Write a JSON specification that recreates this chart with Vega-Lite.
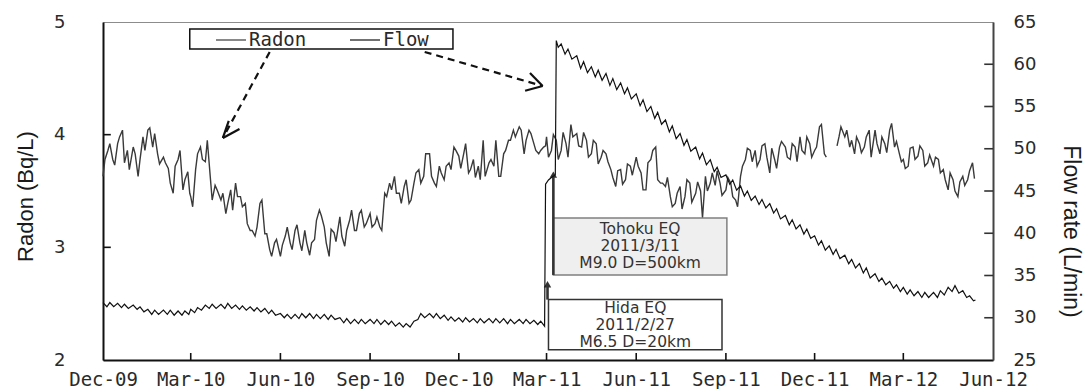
{
  "$schema": "https://vega.github.io/schema/vega-lite/v6.json",
  "width": 890,
  "height": 338,
  "autosize": {"type": "none"},
  "padding": {"left": 103, "top": 22, "right": 96, "bottom": 29},
  "background": "white",
  "config": {
    "view": {"stroke": "#8c8c8c", "strokeWidth": 1},
    "axis": {"grid": false, "domainColor": "#111111", "domainWidth": 2, "ticks": false, "labelColor": "#2a2a2a", "titleColor": "#1a1a1a", "titleFont": "Liberation Sans", "titleFontWeight": "normal", "titleFontSize": 22, "labelFlush": false, "labelOverlap": false}
  },
  "datasets": {
    "radon": [
      {"d":"2009-12-01","r":3.63},{"d":"2009-12-03","r":3.78},{"d":"2009-12-06","r":3.86},{"d":"2009-12-08","r":3.92},{"d":"2009-12-11","r":3.78},{"d":"2009-12-13","r":3.73},{"d":"2009-12-16","r":3.92},{"d":"2009-12-18","r":3.98},{"d":"2009-12-21","r":4.04},{"d":"2009-12-23","r":3.75},{"d":"2009-12-26","r":3.86},{"d":"2009-12-28","r":3.69},
      {"d":"2010-01-01","r":3.89},{"d":"2010-01-03","r":3.83},{"d":"2010-01-06","r":3.63},{"d":"2010-01-08","r":3.78},{"d":"2010-01-11","r":3.98},{"d":"2010-01-13","r":3.86},{"d":"2010-01-16","r":4.04},{"d":"2010-01-18","r":4.06},{"d":"2010-01-21","r":3.89},{"d":"2010-01-23","r":4.01},{"d":"2010-01-26","r":3.83},{"d":"2010-01-28","r":3.74},
      {"d":"2010-02-01","r":3.80},{"d":"2010-02-03","r":3.75},{"d":"2010-02-06","r":3.70},{"d":"2010-02-08","r":3.57},{"d":"2010-02-11","r":3.48},{"d":"2010-02-13","r":3.72},{"d":"2010-02-16","r":3.78},{"d":"2010-02-18","r":3.86},{"d":"2010-02-21","r":3.51},{"d":"2010-02-23","r":3.60},{"d":"2010-02-26","r":3.67},{"d":"2010-02-28","r":3.48},
      {"d":"2010-03-01","r":3.45},{"d":"2010-03-03","r":3.36},{"d":"2010-03-06","r":3.69},{"d":"2010-03-08","r":3.83},{"d":"2010-03-11","r":3.89},{"d":"2010-03-13","r":3.78},{"d":"2010-03-16","r":3.76},{"d":"2010-03-18","r":3.95},{"d":"2010-03-21","r":3.63},{"d":"2010-03-23","r":3.42},{"d":"2010-03-26","r":3.55},{"d":"2010-03-28","r":3.51},
      {"d":"2010-04-01","r":3.42},{"d":"2010-04-03","r":3.48},{"d":"2010-04-06","r":3.30},{"d":"2010-04-08","r":3.39},{"d":"2010-04-11","r":3.51},{"d":"2010-04-13","r":3.33},{"d":"2010-04-16","r":3.57},{"d":"2010-04-18","r":3.45},{"d":"2010-04-21","r":3.45},{"d":"2010-04-23","r":3.36},{"d":"2010-04-26","r":3.39},{"d":"2010-04-28","r":3.21},
      {"d":"2010-05-01","r":3.15},{"d":"2010-05-03","r":3.15},{"d":"2010-05-06","r":3.10},{"d":"2010-05-08","r":3.18},{"d":"2010-05-11","r":3.39},{"d":"2010-05-13","r":3.42},{"d":"2010-05-16","r":3.12},{"d":"2010-05-18","r":3.12},{"d":"2010-05-21","r":2.98},{"d":"2010-05-23","r":2.92},{"d":"2010-05-26","r":3.04},{"d":"2010-05-28","r":3.07},
      {"d":"2010-06-01","r":2.92},{"d":"2010-06-03","r":3.02},{"d":"2010-06-06","r":3.10},{"d":"2010-06-08","r":3.18},{"d":"2010-06-11","r":3.04},{"d":"2010-06-13","r":2.98},{"d":"2010-06-16","r":3.15},{"d":"2010-06-18","r":3.20},{"d":"2010-06-21","r":3.04},{"d":"2010-06-23","r":2.97},{"d":"2010-06-26","r":3.15},{"d":"2010-06-28","r":3.04},
      {"d":"2010-07-01","r":2.93},{"d":"2010-07-03","r":3.04},{"d":"2010-07-06","r":3.07},{"d":"2010-07-08","r":3.24},{"d":"2010-07-11","r":3.33},{"d":"2010-07-13","r":3.28},{"d":"2010-07-16","r":3.18},{"d":"2010-07-18","r":3.04},{"d":"2010-07-21","r":2.92},{"d":"2010-07-23","r":3.16},{"d":"2010-07-26","r":3.13},{"d":"2010-07-28","r":3.05},
      {"d":"2010-08-01","r":3.27},{"d":"2010-08-03","r":3.10},{"d":"2010-08-06","r":3.01},{"d":"2010-08-08","r":3.15},{"d":"2010-08-11","r":3.24},{"d":"2010-08-13","r":3.33},{"d":"2010-08-16","r":3.15},{"d":"2010-08-18","r":3.15},{"d":"2010-08-21","r":3.30},{"d":"2010-08-23","r":3.33},{"d":"2010-08-26","r":3.18},{"d":"2010-08-28","r":3.21},
      {"d":"2010-09-01","r":3.30},{"d":"2010-09-03","r":3.18},{"d":"2010-09-06","r":3.21},{"d":"2010-09-08","r":3.27},{"d":"2010-09-11","r":3.18},{"d":"2010-09-13","r":3.15},{"d":"2010-09-16","r":3.48},{"d":"2010-09-18","r":3.45},{"d":"2010-09-21","r":3.57},{"d":"2010-09-23","r":3.51},{"d":"2010-09-26","r":3.63},{"d":"2010-09-28","r":3.48},
      {"d":"2010-10-01","r":3.48},{"d":"2010-10-03","r":3.39},{"d":"2010-10-06","r":3.54},{"d":"2010-10-08","r":3.60},{"d":"2010-10-11","r":3.39},{"d":"2010-10-13","r":3.42},{"d":"2010-10-16","r":3.57},{"d":"2010-10-18","r":3.66},{"d":"2010-10-21","r":3.69},{"d":"2010-10-23","r":3.57},{"d":"2010-10-26","r":3.63},{"d":"2010-10-28","r":3.83},
      {"d":"2010-11-01","r":3.83},{"d":"2010-11-03","r":3.63},{"d":"2010-11-06","r":3.57},{"d":"2010-11-08","r":3.54},{"d":"2010-11-11","r":3.72},{"d":"2010-11-13","r":3.66},{"d":"2010-11-16","r":3.60},{"d":"2010-11-18","r":3.72},{"d":"2010-11-21","r":3.75},{"d":"2010-11-23","r":3.69},{"d":"2010-11-26","r":3.89},{"d":"2010-11-28","r":3.86},
      {"d":"2010-12-01","r":3.81},{"d":"2010-12-03","r":3.70},{"d":"2010-12-06","r":3.83},{"d":"2010-12-08","r":3.92},{"d":"2010-12-11","r":3.66},{"d":"2010-12-13","r":3.69},{"d":"2010-12-16","r":3.78},{"d":"2010-12-18","r":3.62},{"d":"2010-12-21","r":3.72},{"d":"2010-12-23","r":3.60},{"d":"2010-12-26","r":3.95},{"d":"2010-12-28","r":3.63},
      {"d":"2011-01-01","r":3.75},{"d":"2011-01-03","r":3.78},{"d":"2011-01-06","r":3.72},{"d":"2011-01-08","r":3.95},{"d":"2011-01-11","r":3.63},{"d":"2011-01-13","r":3.63},{"d":"2011-01-16","r":3.83},{"d":"2011-01-18","r":3.86},{"d":"2011-01-21","r":3.95},{"d":"2011-01-23","r":3.95},{"d":"2011-01-26","r":4.04},{"d":"2011-01-28","r":3.98},
      {"d":"2011-02-01","r":4.07},{"d":"2011-02-03","r":4.04},{"d":"2011-02-06","r":3.83},{"d":"2011-02-08","r":3.95},{"d":"2011-02-11","r":4.04},{"d":"2011-02-13","r":4.01},{"d":"2011-02-16","r":3.92},{"d":"2011-02-18","r":3.86},{"d":"2011-02-21","r":3.83},{"d":"2011-02-23","r":3.86},{"d":"2011-02-26","r":3.89},{"d":"2011-02-28","r":3.90},
      {"d":"2011-03-01","r":3.98},{"d":"2011-03-03","r":3.80},{"d":"2011-03-06","r":3.86},{"d":"2011-03-08","r":4.00},{"d":"2011-03-11","r":3.95},{"d":"2011-03-13","r":3.78},{"d":"2011-03-16","r":3.86},{"d":"2011-03-18","r":4.02},{"d":"2011-03-21","r":3.92},{"d":"2011-03-23","r":3.80},{"d":"2011-03-26","r":4.09},{"d":"2011-03-28","r":3.98},
      {"d":"2011-04-01","r":4.01},{"d":"2011-04-03","r":3.90},{"d":"2011-04-06","r":3.89},{"d":"2011-04-08","r":4.02},{"d":"2011-04-11","r":3.95},{"d":"2011-04-13","r":3.80},{"d":"2011-04-16","r":3.83},{"d":"2011-04-18","r":3.95},{"d":"2011-04-21","r":3.92},{"d":"2011-04-23","r":3.74},{"d":"2011-04-26","r":3.80},{"d":"2011-04-28","r":3.86},
      {"d":"2011-05-01","r":3.83},{"d":"2011-05-03","r":3.76},{"d":"2011-05-06","r":3.69},{"d":"2011-05-08","r":3.62},{"d":"2011-05-11","r":3.54},{"d":"2011-05-13","r":3.68},{"d":"2011-05-16","r":3.69},{"d":"2011-05-18","r":3.56},{"d":"2011-05-21","r":3.60},{"d":"2011-05-23","r":3.74},{"d":"2011-05-26","r":3.72},{"d":"2011-05-28","r":3.64},
      {"d":"2011-06-01","r":3.80},{"d":"2011-06-03","r":3.72},{"d":"2011-06-06","r":3.66},{"d":"2011-06-08","r":3.51},{"d":"2011-06-11","r":3.51},{"d":"2011-06-13","r":3.75},{"d":"2011-06-16","r":3.78},{"d":"2011-06-18","r":3.86},{"d":"2011-06-21","r":3.89},{"d":"2011-06-23","r":3.60},{"d":"2011-06-26","r":3.57},{"d":"2011-06-28","r":3.57},
      {"d":"2011-07-01","r":3.54},{"d":"2011-07-03","r":3.62},{"d":"2011-07-06","r":3.45},{"d":"2011-07-08","r":3.36},{"d":"2011-07-11","r":3.39},{"d":"2011-07-13","r":3.48},{"d":"2011-07-16","r":3.54},{"d":"2011-07-18","r":3.34},{"d":"2011-07-21","r":3.45},{"d":"2011-07-23","r":3.60},{"d":"2011-07-26","r":3.57},{"d":"2011-07-28","r":3.40},
      {"d":"2011-08-01","r":3.48},{"d":"2011-08-03","r":3.58},{"d":"2011-08-06","r":3.50},{"d":"2011-08-08","r":3.26},{"d":"2011-08-11","r":3.63},{"d":"2011-08-13","r":3.50},{"d":"2011-08-16","r":3.57},{"d":"2011-08-18","r":3.66},{"d":"2011-08-21","r":3.55},{"d":"2011-08-23","r":3.68},{"d":"2011-08-26","r":3.57},{"d":"2011-08-28","r":3.46},
      {"d":"2011-09-01","r":3.51},{"d":"2011-09-03","r":3.62},{"d":"2011-09-06","r":3.57},{"d":"2011-09-08","r":3.45},{"d":"2011-09-11","r":3.42},{"d":"2011-09-13","r":3.36},{"d":"2011-09-16","r":3.63},{"d":"2011-09-18","r":3.72},{"d":"2011-09-21","r":3.78},{"d":"2011-09-23","r":3.88},{"d":"2011-09-26","r":3.86},{"d":"2011-09-28","r":3.76},
      {"d":"2011-10-01","r":3.86},{"d":"2011-10-03","r":3.72},{"d":"2011-10-06","r":3.78},{"d":"2011-10-08","r":3.90},{"d":"2011-10-11","r":3.92},{"d":"2011-10-13","r":3.80},{"d":"2011-10-16","r":3.66},{"d":"2011-10-18","r":3.88},{"d":"2011-10-21","r":3.78},{"d":"2011-10-23","r":3.70},{"d":"2011-10-26","r":3.89},{"d":"2011-10-28","r":3.94},
      {"d":"2011-11-01","r":3.89},{"d":"2011-11-03","r":3.80},{"d":"2011-11-06","r":3.78},{"d":"2011-11-08","r":3.92},{"d":"2011-11-11","r":3.89},{"d":"2011-11-13","r":3.76},{"d":"2011-11-16","r":3.98},{"d":"2011-11-18","r":3.86},{"d":"2011-11-21","r":3.83},{"d":"2011-11-23","r":3.98},{"d":"2011-11-26","r":3.92},{"d":"2011-11-28","r":3.80},
      {"d":"2011-12-01","r":3.86},{"d":"2011-12-03","r":3.89},{"d":"2011-12-06","r":4.07},{"d":"2011-12-08","r":4.09},{"d":"2011-12-11","r":3.83},{"d":"2011-12-13","r":3.80},{"d":"2011-12-16","r":null},{"d":"2011-12-21","r":null},{"d":"2011-12-24","r":3.90},{"d":"2011-12-26","r":3.98},{"d":"2011-12-28","r":4.07},
      {"d":"2012-01-01","r":3.98},{"d":"2012-01-03","r":4.04},{"d":"2012-01-06","r":3.89},{"d":"2012-01-08","r":3.95},{"d":"2012-01-11","r":3.83},{"d":"2012-01-13","r":3.98},{"d":"2012-01-16","r":3.92},{"d":"2012-01-18","r":3.84},{"d":"2012-01-21","r":3.89},{"d":"2012-01-23","r":3.98},{"d":"2012-01-26","r":4.04},{"d":"2012-01-28","r":3.80},
      {"d":"2012-02-01","r":4.04},{"d":"2012-02-03","r":3.92},{"d":"2012-02-06","r":3.83},{"d":"2012-02-08","r":3.98},{"d":"2012-02-11","r":3.92},{"d":"2012-02-13","r":3.84},{"d":"2012-02-16","r":4.04},{"d":"2012-02-18","r":4.10},{"d":"2012-02-21","r":3.89},{"d":"2012-02-23","r":3.94},{"d":"2012-02-26","r":3.83},{"d":"2012-02-28","r":3.76},
      {"d":"2012-03-01","r":3.78},{"d":"2012-03-03","r":3.70},{"d":"2012-03-06","r":3.72},{"d":"2012-03-08","r":3.88},{"d":"2012-03-11","r":3.89},{"d":"2012-03-13","r":3.78},{"d":"2012-03-16","r":3.81},{"d":"2012-03-18","r":3.90},{"d":"2012-03-21","r":3.86},{"d":"2012-03-23","r":3.72},{"d":"2012-03-26","r":3.75},{"d":"2012-03-28","r":3.82},
      {"d":"2012-04-01","r":3.72},{"d":"2012-04-03","r":3.80},{"d":"2012-04-06","r":3.78},{"d":"2012-04-08","r":3.66},{"d":"2012-04-11","r":3.69},{"d":"2012-04-13","r":3.60},{"d":"2012-04-16","r":3.51},{"d":"2012-04-18","r":3.66},{"d":"2012-04-21","r":3.60},{"d":"2012-04-23","r":3.50},{"d":"2012-04-26","r":3.45},{"d":"2012-04-28","r":3.58},
      {"d":"2012-05-01","r":3.63},{"d":"2012-05-03","r":3.55},{"d":"2012-05-06","r":3.60},{"d":"2012-05-08","r":3.68},{"d":"2012-05-11","r":3.75},{"d":"2012-05-13","r":3.61}
    ],
    "flow": [
      {"d":"2009-12-01","f":31.8},{"d":"2009-12-05","f":31.3},{"d":"2009-12-08","f":31.8},{"d":"2009-12-12","f":31.3},{"d":"2009-12-16","f":31.7},{"d":"2009-12-20","f":31.2},{"d":"2009-12-23","f":31.6},{"d":"2009-12-27","f":31.1},
      {"d":"2010-01-01","f":31.5},{"d":"2010-01-05","f":31.0},{"d":"2010-01-08","f":31.3},{"d":"2010-01-12","f":30.7},{"d":"2010-01-16","f":31.0},{"d":"2010-01-20","f":30.4},{"d":"2010-01-23","f":30.9},{"d":"2010-01-27","f":30.4},
      {"d":"2010-02-01","f":30.9},{"d":"2010-02-05","f":30.4},{"d":"2010-02-08","f":30.9},{"d":"2010-02-12","f":30.3},{"d":"2010-02-16","f":30.8},{"d":"2010-02-20","f":30.3},{"d":"2010-02-23","f":30.8},{"d":"2010-02-27","f":30.4},
      {"d":"2010-03-01","f":31.0},{"d":"2010-03-05","f":30.6},{"d":"2010-03-08","f":31.2},{"d":"2010-03-12","f":30.9},{"d":"2010-03-16","f":31.5},{"d":"2010-03-20","f":31.1},{"d":"2010-03-23","f":31.6},{"d":"2010-03-27","f":31.1},
      {"d":"2010-04-01","f":31.6},{"d":"2010-04-05","f":31.1},{"d":"2010-04-08","f":31.7},{"d":"2010-04-12","f":31.1},{"d":"2010-04-16","f":31.5},{"d":"2010-04-20","f":31.0},{"d":"2010-04-23","f":31.4},{"d":"2010-04-27","f":30.9},
      {"d":"2010-05-01","f":31.3},{"d":"2010-05-05","f":30.8},{"d":"2010-05-08","f":31.2},{"d":"2010-05-12","f":30.7},{"d":"2010-05-16","f":31.1},{"d":"2010-05-20","f":30.5},{"d":"2010-05-23","f":30.9},{"d":"2010-05-27","f":30.3},
      {"d":"2010-06-01","f":30.5},{"d":"2010-06-05","f":30.0},{"d":"2010-06-08","f":30.4},{"d":"2010-06-12","f":29.9},{"d":"2010-06-16","f":30.4},{"d":"2010-06-20","f":29.9},{"d":"2010-06-23","f":30.5},{"d":"2010-06-27","f":30.0},
      {"d":"2010-07-01","f":30.5},{"d":"2010-07-05","f":29.9},{"d":"2010-07-08","f":30.4},{"d":"2010-07-12","f":29.9},{"d":"2010-07-16","f":30.4},{"d":"2010-07-20","f":29.8},{"d":"2010-07-23","f":30.3},{"d":"2010-07-27","f":29.8},
      {"d":"2010-08-01","f":30.0},{"d":"2010-08-05","f":29.4},{"d":"2010-08-08","f":29.9},{"d":"2010-08-12","f":29.3},{"d":"2010-08-16","f":29.8},{"d":"2010-08-20","f":29.3},{"d":"2010-08-23","f":29.8},{"d":"2010-08-27","f":29.3},
      {"d":"2010-09-01","f":29.8},{"d":"2010-09-05","f":29.3},{"d":"2010-09-08","f":29.8},{"d":"2010-09-12","f":29.2},{"d":"2010-09-16","f":29.7},{"d":"2010-09-20","f":29.2},{"d":"2010-09-23","f":29.6},{"d":"2010-09-27","f":29.0},
      {"d":"2010-10-01","f":29.4},{"d":"2010-10-05","f":28.9},{"d":"2010-10-08","f":29.3},{"d":"2010-10-12","f":28.9},{"d":"2010-10-16","f":29.6},{"d":"2010-10-20","f":29.8},{"d":"2010-10-23","f":30.5},{"d":"2010-10-27","f":30.0},
      {"d":"2010-11-01","f":30.5},{"d":"2010-11-05","f":30.0},{"d":"2010-11-08","f":30.5},{"d":"2010-11-12","f":29.9},{"d":"2010-11-16","f":30.3},{"d":"2010-11-20","f":29.7},{"d":"2010-11-23","f":30.1},{"d":"2010-11-27","f":29.6},
      {"d":"2010-12-01","f":30.0},{"d":"2010-12-05","f":29.5},{"d":"2010-12-08","f":30.0},{"d":"2010-12-12","f":29.5},{"d":"2010-12-16","f":29.9},{"d":"2010-12-20","f":29.4},{"d":"2010-12-23","f":29.9},{"d":"2010-12-27","f":29.4},
      {"d":"2011-01-01","f":29.9},{"d":"2011-01-05","f":29.4},{"d":"2011-01-08","f":29.9},{"d":"2011-01-12","f":29.4},{"d":"2011-01-16","f":29.9},{"d":"2011-01-20","f":29.3},{"d":"2011-01-23","f":29.8},{"d":"2011-01-27","f":29.3},
      {"d":"2011-02-01","f":29.8},{"d":"2011-02-05","f":29.3},{"d":"2011-02-08","f":29.8},{"d":"2011-02-12","f":29.3},{"d":"2011-02-16","f":29.7},{"d":"2011-02-20","f":29.2},{"d":"2011-02-23","f":29.6},{"d":"2011-02-27","f":29.0},{"d":"2011-02-28","f":45.8},
      {"d":"2011-03-03","f":46.3},{"d":"2011-03-06","f":46.6},{"d":"2011-03-10","f":46.9},{"d":"2011-03-11","f":62.8},{"d":"2011-03-13","f":62.0},{"d":"2011-03-16","f":62.4},{"d":"2011-03-20","f":61.2},{"d":"2011-03-23","f":61.8},{"d":"2011-03-27","f":60.6},
      {"d":"2011-04-01","f":61.0},{"d":"2011-04-05","f":59.5},{"d":"2011-04-08","f":60.3},{"d":"2011-04-12","f":59.0},{"d":"2011-04-16","f":59.7},{"d":"2011-04-20","f":58.5},{"d":"2011-04-23","f":59.3},{"d":"2011-04-27","f":58.1},
      {"d":"2011-05-01","f":58.9},{"d":"2011-05-05","f":57.5},{"d":"2011-05-08","f":58.3},{"d":"2011-05-12","f":57.0},{"d":"2011-05-16","f":57.8},{"d":"2011-05-20","f":56.5},{"d":"2011-05-23","f":57.2},{"d":"2011-05-27","f":55.9},
      {"d":"2011-06-01","f":56.5},{"d":"2011-06-05","f":55.1},{"d":"2011-06-08","f":55.8},{"d":"2011-06-12","f":54.4},{"d":"2011-06-16","f":55.0},{"d":"2011-06-20","f":53.6},{"d":"2011-06-23","f":54.3},{"d":"2011-06-27","f":52.9},
      {"d":"2011-07-01","f":53.4},{"d":"2011-07-05","f":52.0},{"d":"2011-07-08","f":52.7},{"d":"2011-07-12","f":51.2},{"d":"2011-07-16","f":51.8},{"d":"2011-07-20","f":50.4},{"d":"2011-07-23","f":51.1},{"d":"2011-07-27","f":49.7},
      {"d":"2011-08-01","f":50.2},{"d":"2011-08-05","f":48.8},{"d":"2011-08-08","f":49.5},{"d":"2011-08-12","f":48.1},{"d":"2011-08-16","f":48.7},{"d":"2011-08-20","f":47.3},{"d":"2011-08-23","f":47.8},{"d":"2011-08-27","f":46.6},
      {"d":"2011-09-01","f":46.9},{"d":"2011-09-05","f":45.8},{"d":"2011-09-08","f":46.3},{"d":"2011-09-12","f":45.1},{"d":"2011-09-16","f":45.6},{"d":"2011-09-20","f":44.4},{"d":"2011-09-23","f":45.0},{"d":"2011-09-27","f":43.9},
      {"d":"2011-10-01","f":44.4},{"d":"2011-10-05","f":43.4},{"d":"2011-10-08","f":44.0},{"d":"2011-10-12","f":43.0},{"d":"2011-10-16","f":43.5},{"d":"2011-10-20","f":42.4},{"d":"2011-10-23","f":42.9},{"d":"2011-10-27","f":41.7},
      {"d":"2011-11-01","f":42.1},{"d":"2011-11-05","f":41.0},{"d":"2011-11-08","f":41.6},{"d":"2011-11-12","f":40.5},{"d":"2011-11-16","f":41.0},{"d":"2011-11-20","f":39.9},{"d":"2011-11-23","f":40.5},{"d":"2011-11-27","f":39.4},
      {"d":"2011-12-01","f":39.7},{"d":"2011-12-05","f":38.6},{"d":"2011-12-08","f":39.1},{"d":"2011-12-12","f":38.0},{"d":"2011-12-16","f":38.5},{"d":"2011-12-20","f":37.5},{"d":"2011-12-23","f":38.1},{"d":"2011-12-27","f":37.0},
      {"d":"2012-01-01","f":37.4},{"d":"2012-01-05","f":36.4},{"d":"2012-01-08","f":36.9},{"d":"2012-01-12","f":35.9},{"d":"2012-01-16","f":36.4},{"d":"2012-01-20","f":35.3},{"d":"2012-01-23","f":35.9},{"d":"2012-01-27","f":34.7},
      {"d":"2012-02-01","f":35.2},{"d":"2012-02-05","f":34.3},{"d":"2012-02-08","f":34.7},{"d":"2012-02-12","f":33.9},{"d":"2012-02-16","f":34.3},{"d":"2012-02-20","f":33.5},{"d":"2012-02-23","f":33.9},{"d":"2012-02-27","f":33.1},
      {"d":"2012-03-01","f":33.6},{"d":"2012-03-05","f":32.8},{"d":"2012-03-08","f":33.3},{"d":"2012-03-12","f":32.6},{"d":"2012-03-16","f":33.1},{"d":"2012-03-20","f":32.4},{"d":"2012-03-23","f":33.0},{"d":"2012-03-27","f":32.4},
      {"d":"2012-04-01","f":33.0},{"d":"2012-04-05","f":32.4},{"d":"2012-04-08","f":33.2},{"d":"2012-04-12","f":32.7},{"d":"2012-04-16","f":33.6},{"d":"2012-04-20","f":33.1},{"d":"2012-04-23","f":33.8},{"d":"2012-04-27","f":32.9},
      {"d":"2012-05-01","f":33.2},{"d":"2012-05-05","f":32.4},{"d":"2012-05-08","f":32.6},{"d":"2012-05-12","f":32.0},{"d":"2012-05-14","f":32.1}
    ]
  },
  "layer": [
    {
      "layer": [
        {
          "data": {"name": "radon"},
          "mark": {"type": "line", "strokeWidth": 1.4, "invalid": "break-paths-show-domains"},
          "encoding": {
            "x": {"field": "d", "type": "temporal", "title": null,
              "scale": {"type": "utc", "domain": [{"year": 2009, "month": 12, "date": 1, "utc": true}, {"year": 2012, "month": 6, "date": 1, "utc": true}]},
              "axis": {"title": null, "format": "%b-%y", "labelFont": "DejaVu Sans Mono", "labelFontSize": 19, "labelPadding": 10,
                "values": [
                  {"year": 2009, "month": 12, "date": 1, "utc": true}, {"year": 2010, "month": 3, "date": 1, "utc": true}, {"year": 2010, "month": 6, "date": 1, "utc": true},
                  {"year": 2010, "month": 9, "date": 1, "utc": true}, {"year": 2010, "month": 12, "date": 1, "utc": true}, {"year": 2011, "month": 3, "date": 1, "utc": true},
                  {"year": 2011, "month": 6, "date": 1, "utc": true}, {"year": 2011, "month": 9, "date": 1, "utc": true}, {"year": 2011, "month": 12, "date": 1, "utc": true},
                  {"year": 2012, "month": 3, "date": 1, "utc": true}, {"year": 2012, "month": 6, "date": 1, "utc": true}
                ]}},
            "y": {"field": "r", "type": "quantitative",
              "scale": {"domain": [2, 5], "zero": false, "nice": false},
              "axis": {"values": [2, 3, 4, 5], "format": "d", "labelFont": "DejaVu Sans", "labelFontSize": 18, "labelPadding": 38,
                "title": "Radon (Bq/L)", "titleAngle": -90, "titleX": -78, "titleY": 174, "titleAlign": "center", "titleBaseline": "middle"}},
            "color": {"datum": "Radon", "type": "nominal",
              "scale": {"domain": ["Radon", "Flow"], "range": ["#3a3a3a", "#111111"]},
              "legend": {"title": null, "orient": "none", "legendX": 112, "legendY": 2, "direction": "horizontal",
                "symbolType": "stroke", "symbolSize": 900, "symbolStrokeWidth": 1.2,
                "labelFont": "DejaVu Sans Mono", "labelFontSize": 19, "labelColor": "#2a2a2a", "labelOffset": 2,
                "columnPadding": 40, "padding": 0}}
          }
        },
        {
          "data": {"values": [
            {"d": "2010-03-01", "lo": 2, "hi": 2.062}, {"d": "2010-06-01", "lo": 2, "hi": 2.062}, {"d": "2010-09-01", "lo": 2, "hi": 2.062},
            {"d": "2010-12-01", "lo": 2, "hi": 2.062}, {"d": "2011-03-01", "lo": 2, "hi": 2.062}, {"d": "2011-06-01", "lo": 2, "hi": 2.062},
            {"d": "2011-09-01", "lo": 2, "hi": 2.062}, {"d": "2011-12-01", "lo": 2, "hi": 2.062}, {"d": "2012-03-01", "lo": 2, "hi": 2.062}
          ]},
          "mark": {"type": "rule", "color": "#111111", "strokeWidth": 1.6},
          "encoding": {
            "x": {"field": "d", "type": "temporal"},
            "y": {"field": "lo", "type": "quantitative"}, "y2": {"field": "hi"}
          }
        },
        {
          "data": {"values": [
            {"a": "2009-12-01", "b": "2009-12-09", "v": 3},
            {"a": "2009-12-01", "b": "2009-12-09", "v": 4}
          ]},
          "mark": {"type": "rule", "color": "#111111", "strokeWidth": 1.6},
          "encoding": {
            "x": {"field": "a", "type": "temporal"}, "x2": {"field": "b"},
            "y": {"field": "v", "type": "quantitative"}
          }
        },
        {
          "data": {"values": [{"d1": "2010-02-28", "d2": "2010-11-25", "v1": 4.938, "v2": 4.760}]},
          "mark": {"type": "rect", "fill": "white", "stroke": "#111111", "strokeWidth": 1.5},
          "encoding": {
            "x": {"field": "d1", "type": "temporal"}, "x2": {"field": "d2"},
            "y": {"field": "v1", "type": "quantitative"}, "y2": {"field": "v2"}
          }
        },
        {
          "data": {"values": [
            {"d1": "2010-05-21", "v1": 4.734, "d2": "2010-04-03", "v2": 3.971},
            {"d1": "2010-10-27", "v1": 4.734, "d2": "2011-02-25", "v2": 4.432}
          ]},
          "mark": {"type": "rule", "color": "#111111", "strokeWidth": 2.2, "strokeDash": [7, 5]},
          "encoding": {
            "x": {"field": "d1", "type": "temporal"}, "x2": {"field": "d2"},
            "y": {"field": "v1", "type": "quantitative"}, "y2": {"field": "v2"}
          }
        },
        {
          "data": {"values": [
            {"d1": "2010-04-03", "v1": 3.971, "d2": "2010-04-20", "v2": 4.051},
            {"d1": "2010-04-03", "v1": 3.971, "d2": "2010-04-09", "v2": 4.122},
            {"d1": "2011-02-25", "v1": 4.432, "d2": "2011-02-12", "v2": 4.547},
            {"d1": "2011-02-25", "v1": 4.432, "d2": "2011-02-07", "v2": 4.390}
          ]},
          "mark": {"type": "rule", "color": "#111111", "strokeWidth": 2.2},
          "encoding": {
            "x": {"field": "d1", "type": "temporal"}, "x2": {"field": "d2"},
            "y": {"field": "v1", "type": "quantitative"}, "y2": {"field": "v2"}
          }
        },
        {
          "data": {"values": [{"d1": "2011-03-08", "d2": "2011-09-02", "v1": 3.261, "v2": 2.755}]},
          "mark": {"type": "rect", "fill": "#efefef", "stroke": "#808080", "strokeWidth": 1.5},
          "encoding": {
            "x": {"field": "d1", "type": "temporal"}, "x2": {"field": "d2"},
            "y": {"field": "v1", "type": "quantitative"}, "y2": {"field": "v2"}
          }
        },
        {
          "data": {"values": [{"d1": "2011-03-03", "d2": "2011-08-28", "v1": 2.536, "v2": 2.090}]},
          "mark": {"type": "rect", "fill": "white", "stroke": "#333333", "strokeWidth": 1.5},
          "encoding": {
            "x": {"field": "d1", "type": "temporal"}, "x2": {"field": "d2"},
            "y": {"field": "v1", "type": "quantitative"}, "y2": {"field": "v2"}
          }
        },
        {
          "data": {"values": [
            {"d1": "2011-03-08", "v1": 2.755, "v2": 3.63},
            {"d1": "2011-03-02", "v1": 2.536, "v2": 2.66}
          ]},
          "mark": {"type": "rule", "color": "#333333", "strokeWidth": 2.6},
          "encoding": {
            "x": {"field": "d1", "type": "temporal"},
            "y": {"field": "v1", "type": "quantitative"}, "y2": {"field": "v2"}
          }
        },
        {
          "data": {"values": [
            {"d1": "2011-03-08", "v1": 3.645},
            {"d1": "2011-03-02", "v1": 2.672}
          ]},
          "mark": {"type": "point", "shape": "triangle-up", "filled": true, "color": "#333333", "size": 55, "opacity": 1},
          "encoding": {
            "x": {"field": "d1", "type": "temporal"},
            "y": {"field": "v1", "type": "quantitative"}
          }
        },
        {
          "data": {"values": [
            {"d": "2011-06-05", "v": 3.159, "t": "Tohoku EQ"},
            {"d": "2011-06-05", "v": 3.008, "t": "2011/3/11"},
            {"d": "2011-06-05", "v": 2.857, "t": "M9.0 D=500km"},
            {"d": "2011-05-31", "v": 2.462, "t": "Hida EQ"},
            {"d": "2011-05-31", "v": 2.311, "t": "2011/2/27"},
            {"d": "2011-05-31", "v": 2.161, "t": "M6.5 D=20km"}
          ]},
          "mark": {"type": "text", "font": "DejaVu Sans", "fontSize": 15.5, "color": "#333333", "align": "center", "baseline": "middle"},
          "encoding": {
            "x": {"field": "d", "type": "temporal"},
            "y": {"field": "v", "type": "quantitative"},
            "text": {"field": "t"}
          }
        }
      ]
    },
    {
      "layer": [
        {
          "data": {"name": "flow"},
          "mark": {"type": "line", "strokeWidth": 1.2},
          "encoding": {
            "x": {"field": "d", "type": "temporal", "title": null},
            "y": {"field": "f", "type": "quantitative",
              "scale": {"domain": [25, 65], "zero": false, "nice": false},
              "axis": {"orient": "right", "values": [25, 30, 35, 40, 45, 50, 55, 60, 65], "labelFont": "DejaVu Sans", "labelFontSize": 18, "labelPadding": 20, "domainColor": "#444444",
                "title": "Flow rate (L/min)", "titleFontSize": 23, "titleAngle": 90, "titleX": 77, "titleY": 209, "titleAlign": "center", "titleBaseline": "middle"}},
            "color": {"datum": "Flow", "type": "nominal"}
          }
        },
        {
          "data": {"values": [
            {"a": "2012-05-23", "b": "2012-06-01", "f": 30}, {"a": "2012-05-23", "b": "2012-06-01", "f": 35},
            {"a": "2012-05-23", "b": "2012-06-01", "f": 40}, {"a": "2012-05-23", "b": "2012-06-01", "f": 45},
            {"a": "2012-05-23", "b": "2012-06-01", "f": 50}, {"a": "2012-05-23", "b": "2012-06-01", "f": 55},
            {"a": "2012-05-23", "b": "2012-06-01", "f": 60}
          ]},
          "mark": {"type": "rule", "color": "#333333", "strokeWidth": 1.6},
          "encoding": {
            "x": {"field": "a", "type": "temporal"}, "x2": {"field": "b"},
            "y": {"field": "f", "type": "quantitative"}
          }
        }
      ]
    }
  ],
  "resolve": {"scale": {"y": "independent"}}
}
